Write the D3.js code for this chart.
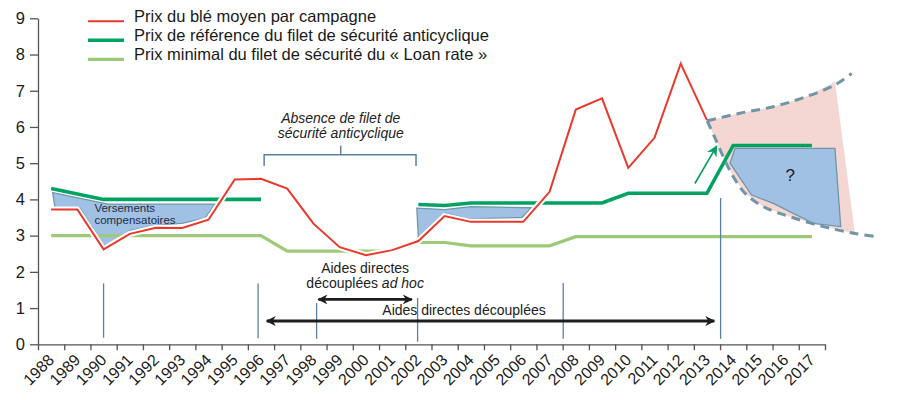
<!DOCTYPE html>
<html><head><meta charset="utf-8">
<script src="https://cdn.jsdelivr.net/npm/d3@7"></script>
<style>
body{margin:0;background:#fff;}
text{font-family:"Liberation Sans",Arial,sans-serif;}
</style></head>
<body>
<script>
// ---- data ----
const years = [1988,1989,1990,1991,1992,1993,1994,1995,1996,1997,1998,1999,2000,2001,2002,2003,2004,2005,2006,2007,2008,2009,2010,2011,2012,2013,2014,2015,2016,2017];
const prixBle = [3.72,3.72,2.62,3.05,3.22,3.21,3.44,4.55,4.57,4.30,3.33,2.68,2.46,2.60,2.85,3.54,3.38,3.38,3.38,4.21,6.48,6.79,4.87,5.70,7.75,6.19,null,null,null,null];
const prixReference = [4.30,4.15,4.00,4.00,4.00,4.00,4.00,4.00,4.00,null,null,null,null,null,3.86,3.83,3.90,3.90,3.90,3.90,3.90,3.90,4.17,4.17,4.17,4.17,5.49,5.49,5.49,5.49];
const prixLoanRate = [3.00,3.00,3.00,3.00,3.00,3.00,3.00,3.00,3.00,2.57,2.57,2.57,2.57,2.57,2.81,2.81,2.72,2.72,2.72,2.72,2.97,2.97,2.97,2.97,2.97,2.97,2.97,2.97,2.97,2.97];
const yTicks = [0,1,2,3,4,5,6,7,8,9];
const legendLabels = ["Prix du blé moyen par campagne","Prix de référence du filet de sécurité anticyclique","Prix minimal du filet de sécurité du « Loan rate »"];

// annotation shapes, in (year, value) space
const versementsA = [[1988.06,4.19],[1990.17,3.87],[1994.25,3.87],[1993.87,3.48],[1992.98,3.34],[1992.02,3.29],[1991.01,3.14],[1990.3,2.76],[1990.0,2.74],[1989.1,3.76],[1988.15,3.76]];
const versementsB = [[2001.94,3.76],[2003.0,3.72],[2004.0,3.80],[2006.32,3.77],[2005.94,3.50],[2003.91,3.46],[2003.02,3.62],[2002.0,2.93]];
const upperDash = [[2013.01,6.17],[2014.26,6.38],[2015.53,6.56],[2016.8,6.84],[2017.88,7.16],[2018.52,7.48]];
const lowerDash = [[2013.01,6.17],[2013.31,5.69],[2013.62,5.18],[2014.0,4.63],[2014.45,4.17],[2015.15,3.80],[2016.17,3.52],[2017.44,3.25],[2018.64,3.06],[2019.53,2.97]];
const pinkZone = [[2013.01,6.17],[2014.26,6.38],[2015.53,6.56],[2016.8,6.84],[2017.88,7.25],[2018.64,3.06],[2017.44,3.25],[2016.17,3.52],[2015.15,3.80],[2014.45,4.17],[2014.0,4.63],[2013.62,5.18],[2013.31,5.69]];
const questionZone = [[2014.07,5.41],[2017.88,5.41],[2018.1,3.25],[2017.05,3.34],[2015.53,3.89],[2014.7,4.12],[2013.88,5.0]];
const greenArrow = [[2012.54,4.44],[2013.37,5.47]];
const separators = [[1990.0,0.18,1.68],[1995.89,0.17,1.68],[1998.12,0.15,1.14],[2001.97,0.07,1.28],[2007.52,0.15,1.69],[2013.52,0.15,4.04]];
const longArrow = [[1996.22,0.64],[2013.28,0.64]];
const shortArrow = [[1998.19,1.24],[2001.75,1.24]];

// ---- chart ----
const W = 906, H = 400;
const svg = d3.select("body").append("svg").attr("width",W).attr("height",H);
const defs = svg.append("defs");
function marker(id, color, w, h){
  defs.append("marker").attr("id",id).attr("viewBox","0 0 10 10").attr("refX",9).attr("refY",5)
    .attr("markerUnits","userSpaceOnUse").attr("markerWidth",w).attr("markerHeight",h).attr("orient","auto-start-reverse")
    .append("path").attr("d","M0,0 L10,5 L0,10 L3,5 Z").attr("fill",color);
}
marker("arrBlack","#1e1e1e",12,10);
marker("arrGreen","#00a060",11,11);

const x = d3.scaleLinear().domain([1987.5,2017.5]).range([38,825]);
const y = d3.scaleLinear().domain([0,9]).range([344.3,18.3]);

// axes
const boundaries = years.map(d=>d-0.5).concat([years[years.length-1]+0.5]);
const xAxis = svg.append("g").attr("transform",`translate(0,${y(0)})`)
  .call(d3.axisBottom(x).tickValues(boundaries).tickSize(6).tickSizeOuter(0).tickFormat(""));
const yAxis = svg.append("g").attr("transform",`translate(${x(1987.5)},0)`)
  .call(d3.axisLeft(y).tickValues(yTicks).tickSize(8).tickSizeOuter(0).tickPadding(5).tickFormat(d3.format("d")));
[xAxis,yAxis].forEach(g=>{
  g.select(".domain").attr("stroke","#555").attr("stroke-width",1.3);
  g.selectAll(".tick line").attr("stroke","#555").attr("stroke-width",1.3);
});
yAxis.selectAll(".tick text").attr("font-size",16.5).attr("fill","#1a1a1a").attr("font-family","'Liberation Sans',Arial,sans-serif");
svg.append("g").selectAll("text").data(years).join("text")
  .attr("transform",d=>`translate(${x(d)+4},361) rotate(-45)`)
  .attr("text-anchor","end").attr("font-size",16).attr("fill","#1a1a1a").text(d=>d);

const line = d3.line().x(d=>x(d[0])).y(d=>y(d[1]));
const poly = pts => line(pts)+"Z";

// pink & blue zones
svg.append("path").attr("d",poly(pinkZone)).attr("fill","#f4d7d3");
[versementsA,versementsB,questionZone].forEach(p=>{
  svg.append("path").attr("d",poly(p)).attr("fill","#a0c0e4").attr("stroke","#6e97aa").attr("stroke-width",1.3);
});

// series
const seriesLine = d3.line().defined(d=>d[1]!=null).x(d=>x(d[0])).y(d=>y(d[1]));
const zip = arr => years.map((yr,i)=>[yr,arr[i]]);
svg.append("path").attr("d",seriesLine(zip(prixLoanRate))).attr("fill","none").attr("stroke","#9dca78").attr("stroke-width",3.2);
svg.append("path").attr("d",seriesLine(zip(prixReference))).attr("fill","none").attr("stroke","#00a262").attr("stroke-width",3.6);
svg.append("path").attr("d",seriesLine(zip(prixBle))).attr("fill","none").attr("stroke","#fff").attr("stroke-width",6).attr("stroke-linejoin","round");
svg.append("path").attr("d",seriesLine(zip(prixBle))).attr("fill","none").attr("stroke","#e8392b").attr("stroke-width",2);

// dashed projection curves
const curveLine = d3.line().x(d=>x(d[0])).y(d=>y(d[1])).curve(d3.curveCatmullRom);
[upperDash,lowerDash].forEach(p=>{
  svg.append("path").attr("d",curveLine(p)).attr("fill","none").attr("stroke","#6f95a6")
    .attr("stroke-width",3).attr("stroke-dasharray","9,6");
});

// green arrow
svg.append("path").attr("d",line(greenArrow)).attr("stroke","#00a060").attr("stroke-width",1.6).attr("fill","none").attr("marker-end","url(#arrGreen)");

// separators
svg.append("g").selectAll("line").data(separators).join("line")
  .attr("x1",d=>x(d[0])).attr("x2",d=>x(d[0])).attr("y1",d=>y(d[1])).attr("y2",d=>y(d[2]))
  .attr("stroke","#5b80a4").attr("stroke-width",1.3);

// bracket
const bx0 = x(1996.12), bx1 = x(2001.91), by = y(5.23), byEnd = y(4.92), bc = x(1999.04), bTop = y(5.48);
svg.append("path").attr("d",`M${bx0},${byEnd}V${by}H${bx1}V${byEnd}M${bc},${by}V${bTop}`)
  .attr("fill","none").attr("stroke","#5b80a4").attr("stroke-width",1.5);

// black arrows
svg.append("path").attr("d",line(longArrow)).attr("stroke","#1e1e1e").attr("stroke-width",3).attr("fill","none")
  .attr("marker-start","url(#arrBlack)").attr("marker-end","url(#arrBlack)");
svg.append("path").attr("d",line(shortArrow)).attr("stroke","#1e1e1e").attr("stroke-width",2.6).attr("fill","none")
  .attr("marker-start","url(#arrBlack)").attr("marker-end","url(#arrBlack)");

// texts
const tcol = "#222";
svg.append("text").attr("x",x(1999.04)).attr("y",y(6.12)).attr("text-anchor","middle").attr("font-size",14).attr("font-style","italic").attr("fill",tcol).text("Absence de filet de");
svg.append("text").attr("x",x(1999.04)).attr("y",y(5.70)).attr("text-anchor","middle").attr("font-size",14).attr("font-style","italic").attr("fill",tcol).text("sécurité anticyclique");
svg.append("text").attr("x",x(1999.97)).attr("y",y(1.96)).attr("text-anchor","middle").attr("font-size",14).attr("fill",tcol).text("Aides directes");
const t2 = svg.append("text").attr("x",x(1999.97)).attr("y",y(1.55)).attr("text-anchor","middle").attr("font-size",14).attr("fill",tcol);
t2.append("tspan").text("découplées ");
t2.append("tspan").attr("font-style","italic").text("ad hoc");
svg.append("text").attr("x",x(2003.74)).attr("y",y(0.81)).attr("text-anchor","middle").attr("font-size",14).attr("fill",tcol).text("Aides directes découplées");
svg.append("text").attr("x",x(1989.65)).attr("y",y(3.64)).attr("font-size",11.5).attr("fill","#1f2d3d").text("Versements");
svg.append("text").attr("x",x(1989.65)).attr("y",y(3.32)).attr("font-size",11.5).attr("fill","#1f2d3d").text("compensatoires");
svg.append("text").attr("x",x(2016.17)).attr("y",y(4.52)).attr("text-anchor","middle").attr("font-size",17).attr("fill","#1a1a1a").text("?");

// legend
const legColors = ["#e8392b","#00a262","#9dca78"];
const legWidths = [2,3.6,3.2];
const leg = svg.append("g").selectAll("g").data(legendLabels).join("g")
  .attr("transform",(d,i)=>`translate(88,${21.3+i*19})`);
leg.append("line").attr("x1",0).attr("x2",36).attr("stroke",(d,i)=>legColors[i]).attr("stroke-width",(d,i)=>legWidths[i]);
leg.append("text").attr("x",46).attr("y",0.6).attr("font-size",16.5).attr("fill","#1a1a1a").text(d=>d);
</script>
</body></html>
